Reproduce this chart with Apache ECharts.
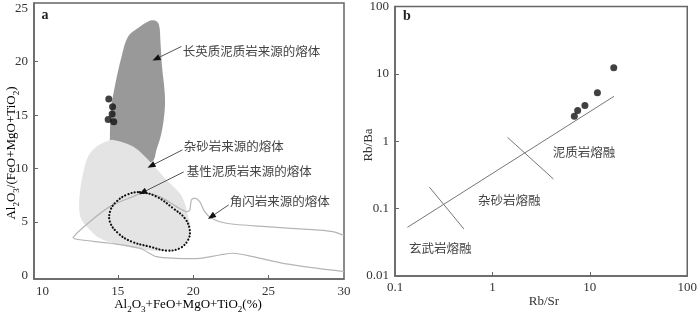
<!DOCTYPE html>
<html><head><meta charset="utf-8">
<script src="https://cdn.jsdelivr.net/npm/echarts@6/dist/echarts.min.js"></script>
<style>html,body{margin:0;padding:0;background:#fff}#c{width:700px;height:313px}</style>
</head><body><div id="c"></div>
<script>
// ===== Panel a =====
const aXTicks = [10, 15, 20, 25, 30];
const aYTicks = [0, 5, 10, 15, 20, 25];
const aSamples = [[14.40,16.5],[14.65,15.78],[14.62,15.1],[14.36,14.6],[14.73,14.37]];
const felsicPelite = [[17.45,23.86],[17.73,23.46],[17.83,21.74],[17.93,19.55],[18.11,17.06],[18.11,15.49],[17.89,13.31],[17.56,11.74],[17.30,10.65],[16.46,10.34],[14.47,10.81],[14.47,12.68],[14.54,15.49],[14.80,17.68],[15.25,20.49],[15.68,22.36],[16.34,23.15],[17.01,23.77]];
const greywacke = [[14.69,12.68],[16.01,12.05],[17.23,10.50],[18.23,8.93],[19.11,7.69],[19.44,6.75],[19.64,5.65],[19.83,4.43],[19.64,3.31],[18.97,2.56],[17.78,2.28],[16.46,2.46],[15.13,2.84],[13.81,3.47],[13.15,4.25],[12.60,5.18],[12.44,6.12],[12.48,7.69],[12.70,9.56],[13.03,11.12],[13.59,12.05],[14.25,12.52]];
const maficPelite = [[16.46,7.78],[17.56,7.37],[18.66,6.28],[19.44,5.34],[19.77,4.25],[19.66,3.31],[19.11,2.53],[18.23,2.31],[17.12,2.68],[15.91,3.15],[15.02,3.94],[14.47,5.02],[14.52,6.12],[14.91,6.90],[15.58,7.53]];
const amphibolite = [[30.0,3.73],[29.26,4.09],[28.16,4.25],[24.85,4.55],[22.20,4.87],[21.21,5.34],[20.76,5.96],[20.43,6.90],[20.10,7.22],[19.88,7.06],[19.77,6.12],[19.55,5.96],[18.89,6.43],[17.78,7.37],[16.68,7.69],[16.01,7.37],[14.47,6.43],[13.15,5.02],[12.04,3.56],[12.26,3.37],[14.47,3.00],[16.46,2.53],[17.56,1.74],[18.89,1.59],[20.43,1.59],[21.75,1.90],[22.64,2.06],[23.96,1.74],[25.95,1.12],[28.16,0.66],[30.0,0.34]];
const aLabelText = ['长英质泥质岩来源的熔体','杂砂岩来源的熔体','基性泥质岩来源的熔体','角闪岩来源的熔体'];
const aLabelPos = [[19.30,21.02],[19.37,12.05],[19.57,9.71],[22.42,6.90]];
const aArrows = [[19.22,21.43,17.30,20.11],[19.28,11.74,16.97,10.08],[19.37,9.68,16.41,7.59],[22.35,6.59,20.98,5.28]];

// ===== Panel b =====
const bXTicks = [0.1, 1, 10, 100];
const bYTicks = [0.01, 0.1, 1, 10, 100];
const bSamples = [[17.6,12.3],[11.96,5.26],[8.9,3.39],[7.5,2.86],[6.93,2.34]];
const bMainLine = [[0.134,0.0527],[17.7,4.64]];
const bCross1 = [[0.226,0.208],[0.509,0.050]];
const bCross2 = [[1.43,1.14],[4.23,0.275]];
const bLabelText = ['泥质岩熔融','杂砂岩熔融','玄武岩熔融'];
const bLabelPos = [[8.69,0.679],[1.49,0.134],[0.292,0.0257]];

const SERIF = '"Liberation Serif","DejaVu Serif",serif';
const CJK = '"Noto Sans CJK SC",sans-serif';
const AX = '#666';

function shapeSeries(pts, xi, closed, style, z, smooth) {
  return {
    type: 'custom', xAxisIndex: xi, yAxisIndex: xi, data: pts, silent: true, z: z,
    renderItem(params, api) {
      if (params.dataIndex !== 0) return null;
      return {
        type: closed ? 'polygon' : 'polyline',
        shape: { points: pts.map(p => api.coord(p)), smooth: smooth },
        style: style
      };
    }
  };
}
function arrowSeries(arrows, xi) {
  return {
    type: 'custom', xAxisIndex: xi, yAxisIndex: xi, data: arrows, silent: true, z: 10,
    encode: { x: [0, 2], y: [1, 3] },
    renderItem(params, api) {
      const p1 = api.coord([api.value(0), api.value(1)]);
      const p2 = api.coord([api.value(2), api.value(3)]);
      const dx = p2[0] - p1[0], dy = p2[1] - p1[1];
      const L = Math.sqrt(dx * dx + dy * dy), ux = dx / L, uy = dy / L;
      const hl = 8, hw = 3.2;
      const bx = p2[0] - ux * hl, by = p2[1] - uy * hl;
      return {
        type: 'group', children: [
          { type: 'line', shape: { x1: p1[0], y1: p1[1], x2: bx + ux * 2, y2: by + uy * 2 }, style: { stroke: '#555', lineWidth: 1 } },
          { type: 'polygon', shape: { points: [[p2[0], p2[1]], [bx - uy * hw, by + ux * hw], [bx + uy * hw, by - ux * hw]] }, style: { fill: '#111' } }
        ]
      };
    }
  };
}
function textSeries(pos, texts, xi, align) {
  return {
    type: 'custom', xAxisIndex: xi, yAxisIndex: xi, data: pos, silent: true, z: 11,
    renderItem(params, api) {
      const p = api.coord([api.value(0), api.value(1)]);
      return {
        type: 'text', x: p[0], y: p[1],
        style: { text: texts[params.dataIndex], fill: '#444', font: '12.5px ' + CJK, align: align, verticalAlign: 'middle' }
      };
    }
  };
}
const fmt = v => String(parseFloat(Number(v).toPrecision(6)));
const tickLabel = { color: '#333', fontSize: 13, fontFamily: SERIF };
const rich = {
  a: { fontSize: 13, fontFamily: SERIF, color: '#333', lineHeight: 18 },
  s: { fontSize: 9, fontFamily: SERIF, color: '#333', verticalAlign: 'bottom', lineHeight: 9 }
};

const chart = echarts.init(document.getElementById('c'), null, { renderer: 'canvas' });
chart.setOption({
  animation: false,
  backgroundColor: '#fff',
  grid: [
    { left: 34, top: 3, width: 310, height: 276, show: true, borderColor: AX, borderWidth: 1.5, backgroundColor: 'transparent' },
    { left: 395, top: 3, width: 297, height: 273, show: true, borderColor: AX, borderWidth: 1.5, backgroundColor: 'transparent' }
  ],
  xAxis: [
    { type: 'value', gridIndex: 0, min: 9.44, max: 30,
      axisLine: { onZero: false, lineStyle: { color: AX, width: 1.5 } },
      axisTick: { inside: true, length: 4, lineStyle: { color: AX }, customValues: [15, 20, 25] },
      axisLabel: { ...tickLabel, margin: 6, customValues: aXTicks, formatter: fmt },
      splitLine: { show: false } },
    { type: 'log', logBase: 10, gridIndex: 1, min: 0.1, max: 100,
      axisLine: { onZero: false, lineStyle: { color: AX, width: 1.5 } },
      axisTick: { inside: true, length: 4, lineStyle: { color: AX }, customValues: [1, 10] },
      axisLabel: { ...tickLabel, margin: 5, customValues: bXTicks, formatter: fmt },
      splitLine: { show: false } }
  ],
  yAxis: [
    { type: 'value', gridIndex: 0, min: -0.35, max: 25.5,
      axisLine: { onZero: false, lineStyle: { color: AX, width: 1.5 } },
      axisTick: { inside: true, length: 4, lineStyle: { color: AX }, customValues: [5, 10, 15, 20] },
      axisLabel: { ...tickLabel, margin: 6, customValues: aYTicks, formatter: fmt },
      splitLine: { show: false } },
    { type: 'log', logBase: 10, gridIndex: 1, min: 0.01, max: 100,
      axisLine: { onZero: false, lineStyle: { color: AX, width: 1.5 } },
      axisTick: { inside: true, length: 4, lineStyle: { color: AX }, customValues: [0.1, 1, 10] },
      axisLabel: { ...tickLabel, margin: 6, customValues: bYTicks, formatter: fmt },
      splitLine: { show: false } }
  ],
  graphic: [
    { type: 'text', x: 45, y: 15, style: { text: 'a', font: 'bold 14px ' + SERIF, fill: '#222', align: 'center', verticalAlign: 'middle' } },
    { type: 'text', x: 407, y: 16, style: { text: 'b', font: 'bold 14px ' + SERIF, fill: '#222', align: 'center', verticalAlign: 'middle' } },
    { type: 'text', x: 188, y: 305, style: { text: '{a|Al}{s|2}{a|O}{s|3}{a|+FeO+MgO+TiO}{s|2}{a|(%)}', rich: rich, align: 'center', verticalAlign: 'middle' } },
    { type: 'text', x: 12, y: 153, rotation: Math.PI / 2, style: { text: '{a|Al}{s|2}{a|O}{s|3}{a|/(FeO+MgO+TiO}{s|2}{a|)}', rich: rich, align: 'center', verticalAlign: 'middle' } },
    { type: 'text', x: 544, y: 302, style: { text: 'Rb/Sr', font: '13px ' + SERIF, fill: '#333', align: 'center', verticalAlign: 'middle' } },
    { type: 'text', x: 369, y: 145, rotation: Math.PI / 2, style: { text: 'Rb/Ba', font: '13px ' + SERIF, fill: '#333', align: 'center', verticalAlign: 'middle' } }
  ],
  series: [
    shapeSeries(felsicPelite, 0, true, { fill: '#999999' }, 1, 0.35),
    shapeSeries(greywacke, 0, true, { fill: '#e4e4e4' }, 2, 0.35),
    shapeSeries(amphibolite, 0, false, { fill: null, stroke: '#b5b5b5', lineWidth: 1.2 }, 3, 0.3),
    shapeSeries(maficPelite, 0, true, { fill: null, stroke: '#111', lineWidth: 2.2, lineDash: [0.1, 3.2], lineCap: 'round' }, 4, 0.4),
    { type: 'scatter', xAxisIndex: 0, yAxisIndex: 0, data: aSamples, symbolSize: 7, itemStyle: { color: '#111' }, z: 12, silent: true },
    arrowSeries(aArrows, 0),
    textSeries(aLabelPos, aLabelText, 0, 'left'),
    { type: 'line', xAxisIndex: 1, yAxisIndex: 1, data: bMainLine, showSymbol: false, lineStyle: { color: '#777', width: 1 }, silent: true },
    { type: 'line', xAxisIndex: 1, yAxisIndex: 1, data: bCross1, showSymbol: false, lineStyle: { color: '#777', width: 1 }, silent: true },
    { type: 'line', xAxisIndex: 1, yAxisIndex: 1, data: bCross2, showSymbol: false, lineStyle: { color: '#777', width: 1 }, silent: true },
    { type: 'scatter', xAxisIndex: 1, yAxisIndex: 1, data: bSamples, symbolSize: 7, itemStyle: { color: '#111' }, z: 12, silent: true },
    textSeries(bLabelPos, bLabelText, 1, 'center')
  ]
});
</script></body></html>
